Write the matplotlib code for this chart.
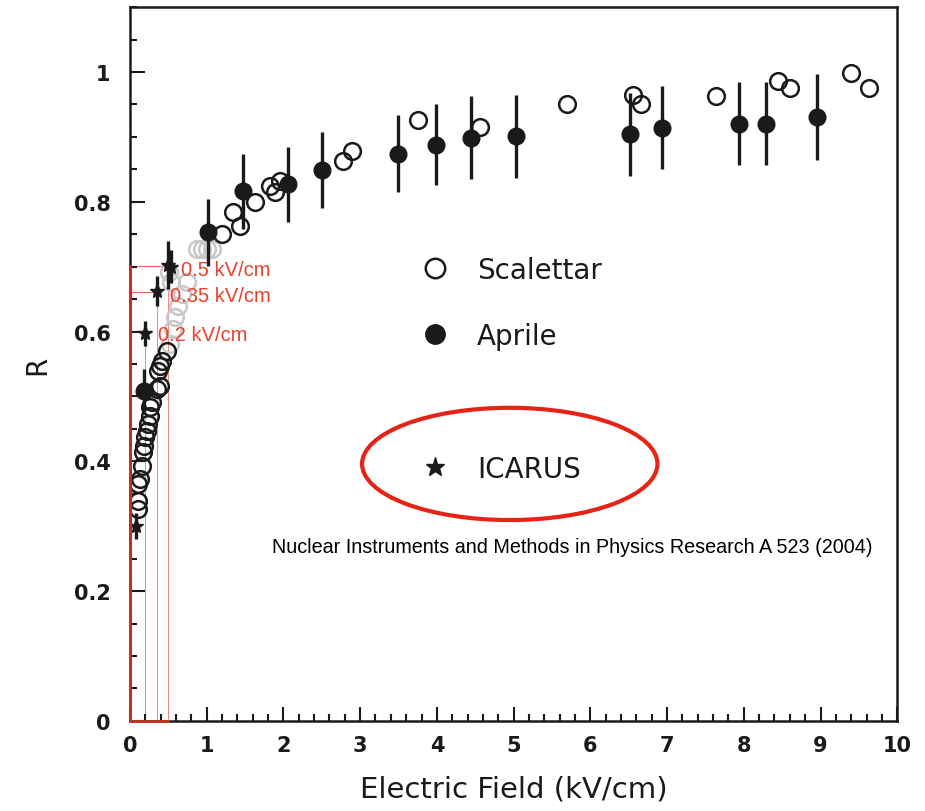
import matplotlib.pyplot as plt
from matplotlib.lines import Line2D
from matplotlib.patches import Ellipse
from matplotlib.ticker import MultipleLocator

# Scalettar (open circles)
scal_e = [0.10, 0.10, 0.10, 0.13, 0.16, 0.17, 0.18, 0.20, 0.22, 0.23, 0.26,
          0.26, 0.29, 0.35, 0.39, 0.36, 0.39, 0.42, 0.48,
          1.20, 1.34, 1.43, 1.63, 1.83, 1.89, 1.96, 2.78, 2.89, 3.76, 4.56,
          5.70, 6.55, 6.66, 7.64, 8.44, 8.60, 9.40, 9.63]
scal_r = [0.327, 0.339, 0.365, 0.373, 0.393, 0.414, 0.424, 0.437, 0.447, 0.458,
          0.470, 0.484, 0.491, 0.512, 0.516, 0.539, 0.547, 0.555, 0.570,
          0.750, 0.784, 0.763, 0.800, 0.824, 0.815, 0.832, 0.863, 0.878, 0.926,
          0.915, 0.951, 0.965, 0.951, 0.963, 0.986, 0.976, 0.998, 0.976]
# faded Scalettar points (grey in the scan)
faded_e = [0.52, 0.56, 0.59, 0.63, 0.68, 0.74, 0.53, 0.51, 0.87, 0.94, 1.00, 1.07]
faded_r = [0.581, 0.604, 0.622, 0.639, 0.658, 0.676, 0.676, 0.692, 0.727, 0.727,
           0.727, 0.727]

# Aprile (filled circles with errors)
apr_e = [0.18, 1.02, 1.47, 2.06, 2.50, 3.49, 3.99, 4.44, 5.03, 6.52, 6.94,
         7.94, 8.29, 8.96]
apr_r = [0.508, 0.753, 0.816, 0.827, 0.849, 0.874, 0.888, 0.899, 0.901, 0.904,
         0.914, 0.920, 0.920, 0.931]
apr_err = [0.035, 0.052, 0.058, 0.058, 0.058, 0.059, 0.062, 0.064, 0.064,
           0.064, 0.064, 0.064, 0.064, 0.066]

# ICARUS (stars)
ica_e = [0.08, 0.20, 0.35, 0.50, 0.53]
ica_r = [0.300, 0.597, 0.663, 0.703, 0.700]
ica_err = [0.020, 0.019, 0.023, 0.037, 0.025]

# highlighted field values
mark_e = [0.2, 0.35, 0.5]
mark_r = [0.601, 0.661, 0.701]
mark_lbl = ["0.2 kV/cm", "0.35 kV/cm", "0.5 kV/cm"]

red = "#e8412f"

fig = plt.figure(figsize=(9.25, 8.12), dpi=100)
ax = fig.add_axes([0.1405, 0.111, 0.8295, 0.879])

# red guide lines
for e, r in zip(mark_e, mark_r):
    ax.plot([0, e], [r, r], color=red, lw=0.8, alpha=0.8, zorder=1)
    ax.plot([e, e], [0, r], color=red, lw=0.8, alpha=0.6, zorder=1)
ax.plot([0, 0], [0, max(mark_r)], color="#c8301f", lw=2, zorder=5, clip_on=False)
ax.plot([0, max(mark_e)], [0, 0], color="#c8301f", lw=2, zorder=5, clip_on=False)

ax.plot(faded_e, faded_r, "o", ms=12, mfc="none", mec="#c8c8c8", mew=1.8, zorder=2)
ax.plot(scal_e, scal_r, "o", ms=12, mfc="none", mec="#1a1a1a", mew=1.8, zorder=3)
ax.errorbar(apr_e, apr_r, yerr=apr_err, fmt="o", ms=12, color="#1a1a1a",
            elinewidth=2.4, capsize=0, zorder=4)
ax.errorbar(ica_e, ica_r, yerr=ica_err, fmt="*", ms=11, color="#1a1a1a",
            elinewidth=2.4, capsize=0, zorder=4)

for e, r, t in zip(mark_e, mark_r, mark_lbl):
    ax.text(e + 0.17, r - 0.005, t, color=red, fontsize=14.5,
            family="Liberation Sans", va="center", ha="left")

# legend
h_scal = Line2D([], [], ls="none", marker="o", ms=14, mfc="none", mec="#1a1a1a", mew=1.8)
h_apr = Line2D([], [], ls="none", marker="o", ms=14, color="#1a1a1a")
h_blank = Line2D([], [], ls="none")
h_ica = Line2D([], [], ls="none", marker="*", ms=14, color="#1a1a1a")
leg = ax.legend([h_scal, h_apr, h_blank, h_ica], ["Scalettar", "Aprile", "", "ICARUS"],
                loc="upper left", bbox_to_anchor=(0.347, 0.687), frameon=False,
                fontsize=20, labelspacing=1.38, handletextpad=1.0,
                handlelength=1.0)
for t in leg.get_texts():
    t.set_color("#1a1a1a")

ax.add_patch(Ellipse((4.95, 0.396), 3.85, 0.173, fill=False, ec="#e52417", lw=3,
                     zorder=6))

ax.text(1.85, 0.268, "Nuclear Instruments and Methods in Physics Research A 523 (2004)",
        fontsize=14.2, family="Liberation Sans", va="center", ha="left")

ax.set_xlim(0, 10)
ax.set_ylim(0, 1.1)
ax.xaxis.set_major_locator(MultipleLocator(1))
ax.xaxis.set_minor_locator(MultipleLocator(0.2))
ax.yaxis.set_major_locator(MultipleLocator(0.2))
ax.yaxis.set_minor_locator(MultipleLocator(0.05))
ax.set_yticks([0, 0.2, 0.4, 0.6, 0.8, 1.0])
ax.set_yticklabels(["0", "0.2", "0.4", "0.6", "0.8", "1"])
ax.tick_params(which="both", direction="in", width=1.5, colors="#1a1a1a",
               labelsize=15, pad=10)
ax.tick_params(axis="y", which="major", length=11, pad=14)
ax.tick_params(axis="y", which="minor", length=5)
ax.tick_params(axis="x", which="major", length=10)
ax.tick_params(axis="x", which="minor", length=5)
for lab in ax.get_xticklabels() + ax.get_yticklabels():
    lab.set_fontweight("bold")
for s in ax.spines.values():
    s.set_linewidth(1.8)
    s.set_color("#1a1a1a")

ax.set_xlabel("Electric Field (kV/cm)", fontsize=21, labelpad=14, color="#1a1a1a")
ax.set_ylabel("R", fontsize=20, labelpad=16, color="#1a1a1a")

fig.savefig("out.png", dpi=100)
